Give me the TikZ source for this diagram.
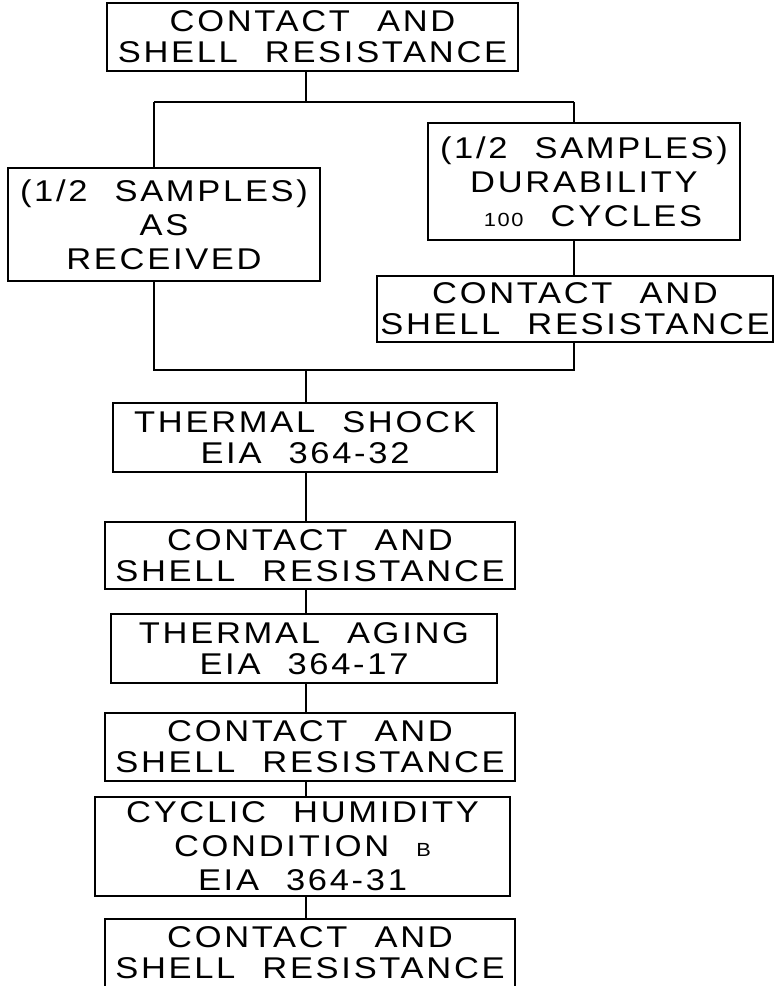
\documentclass[tikz,border=0pt]{standalone}
\usepackage{fontspec}
\newfontfamily\cadfont{Liberation Sans}[FakeStretch=1.15, LetterSpace=9, WordSpace=2.2]
\usepackage{tikz}
\newcommand{\bigtxt}{\fontsize{30}{31}\selectfont}
\newcommand{\tallbig}{\fontsize{30}{34}\selectfont}
\newcommand{\smalltxt}{\fontsize{19}{34}\selectfont}
\tikzstyle{testbox} = [rectangle, draw, line width=1.2pt, inner sep=0pt, align=center, font=\cadfont\bigtxt]
\tikzstyle{tallbox} = [testbox, font=\cadfont\tallbig]
\tikzstyle{link} = [line width=1.2pt]

\begin{document}
\begin{tikzpicture}[x=1pt,y=-1pt]
\useasboundingbox (0,0) rectangle (775,986);

% First measurement
\node[testbox, minimum width=411pt, minimum height=68pt] (csr0) at (312.5,37) {CONTACT AND\\SHELL RESISTANCE};

% Two halves of the samples
\node[tallbox, minimum width=312pt, minimum height=113pt] (recv) at (164,224.5) {(1/2 SAMPLES)\\AS\\RECEIVED};
\node[tallbox, minimum width=312pt, minimum height=117pt] (dura) at (584,181.5) {(1/2 SAMPLES)\\DURABILITY\\\hspace*{0.6em}{\smalltxt 100} CYCLES};
\node[testbox, minimum width=396pt, minimum height=66pt] (csr1) at (575,309) {CONTACT AND\\SHELL RESISTANCE};

% Main sequence
\node[testbox, minimum width=384pt, minimum height=69pt] (shock) at (305,437.5) {THERMAL SHOCK\\EIA 364-32};
\node[testbox, minimum width=410pt, minimum height=67pt] (csr2) at (310,555.5) {CONTACT AND\\SHELL RESISTANCE};
\node[testbox, minimum width=386pt, minimum height=69pt] (aging) at (304,648.5) {THERMAL AGING\\EIA 364-17};
\node[testbox, minimum width=410pt, minimum height=68pt] (csr3) at (310,747) {CONTACT AND\\SHELL RESISTANCE};
\node[tallbox, minimum width=415pt, minimum height=99pt] (humid) at (302.5,846.5) {CYCLIC HUMIDITY\\CONDITION {\smalltxt B}\\EIA 364-31};
\node[testbox, minimum width=410pt, minimum height=68pt] (csr4) at (310,953) {CONTACT AND\\SHELL RESISTANCE};

% Branch points
\coordinate (split) at (306,102);
\coordinate (splitL) at (154,102);
\coordinate (splitR) at (574,102);
\coordinate (merge) at (306,370);
\coordinate (mergeL) at (154,370);
\coordinate (mergeR) at (574,370);

% Lines
\draw[link] (csr0.south -| split) -- (split);
\draw[link] (splitL) -- (splitR);
\draw[link] (splitL) -- (recv.north -| splitL);
\draw[link] (splitR) -- (dura.north -| splitR);
\draw[link] (dura.south -| splitR) -- (csr1.north -| splitR);
\draw[link] (recv.south -| mergeL) -- (mergeL) -- (mergeR) -- (csr1.south -| mergeR);
\draw[link] (merge) -- (shock.north -| merge);
\foreach \a/\b in {shock/csr2, csr2/aging, aging/csr3, csr3/humid, humid/csr4}
  \draw[link] (\a.south -| merge) -- (\b.north -| merge);
\end{tikzpicture}
\end{document}
